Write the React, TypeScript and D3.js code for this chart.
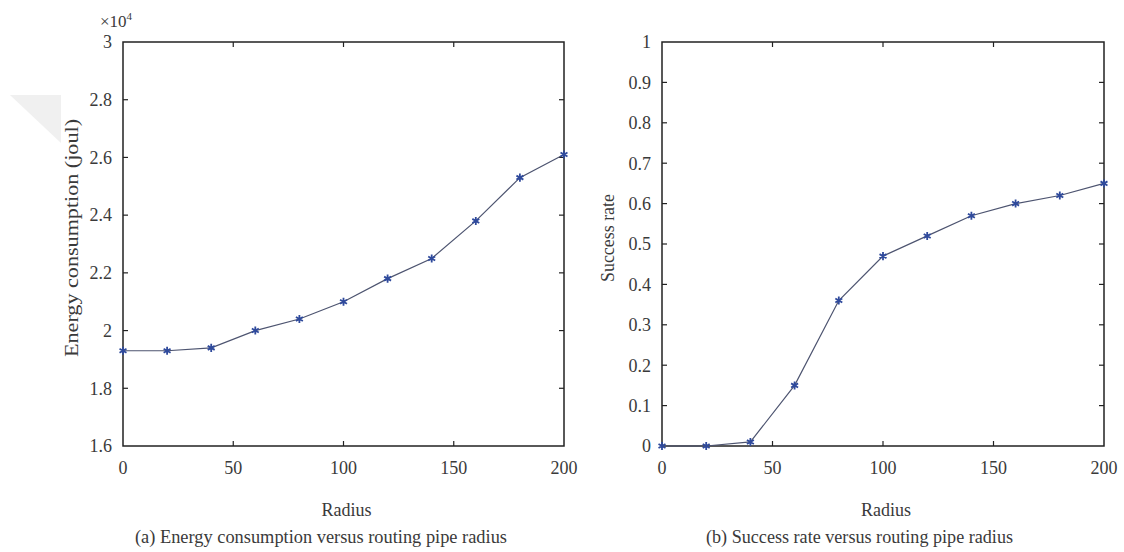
import { useEffect, useRef } from "react"
import * as d3 from "d3"

const radius = [0, 20, 40, 60, 80, 100, 120, 140, 160, 180, 200]
const energy = [1.93, 1.93, 1.94, 2.0, 2.04, 2.1, 2.18, 2.25, 2.38, 2.53, 2.61]
const success = [0, 0, 0.01, 0.15, 0.36, 0.47, 0.52, 0.57, 0.6, 0.62, 0.65]

const xTicks = [0, 50, 100, 150, 200]
const energyTicks = [1.6, 1.8, 2, 2.2, 2.4, 2.6, 2.8, 3]
const successTicks = [0, 0.1, 0.2, 0.3, 0.4, 0.5, 0.6, 0.7, 0.8, 0.9, 1]

const FONT = "Liberation Serif"
const TEXT = "#3a3a3a"

export default function App() {
  const svgRef = useRef<SVGSVGElement>(null)

  useEffect(() => {
    if (!svgRef.current) return
    const svg = d3.select(svgRef.current)
    svg.selectAll("*").remove()

    // faint watermark triangle in the corner
    svg
      .append("polygon")
      .attr("points", "10,95 61,95 61,143")
      .attr("fill", "#f0f0f0")

    const drawPanel = (opts: {
      left: number
      right: number
      values: number[]
      yDomain: [number, number]
      yTicks: number[]
      yLabel: string
      yLabelLen: number
      yLabelX: number
      caption: string
      captionX: number
      captionLen: number
    }) => {
      const top = 42
      const bottom = 446
      const x = d3.scaleLinear().domain([0, 200]).range([opts.left, opts.right])
      const y = d3.scaleLinear().domain(opts.yDomain).range([bottom, top])
      const g = svg.append("g")

      // ticks (inward, mirrored)
      xTicks.forEach((t) => {
        if (t === 0 || t === 200) return
        g.append("line").attr("x1", x(t)).attr("x2", x(t)).attr("y1", bottom).attr("y2", bottom - 5)
          .attr("stroke", "#222").attr("stroke-width", 1.2)
        g.append("line").attr("x1", x(t)).attr("x2", x(t)).attr("y1", top).attr("y2", top + 5)
          .attr("stroke", "#222").attr("stroke-width", 1.2)
      })
      opts.yTicks.forEach((t, i) => {
        if (i === 0 || i === opts.yTicks.length - 1) return
        g.append("line").attr("x1", opts.left).attr("x2", opts.left + 5).attr("y1", y(t)).attr("y2", y(t))
          .attr("stroke", "#222").attr("stroke-width", 1.2)
        g.append("line").attr("x1", opts.right).attr("x2", opts.right - 5).attr("y1", y(t)).attr("y2", y(t))
          .attr("stroke", "#222").attr("stroke-width", 1.2)
      })

      g.append("rect")
        .attr("x", opts.left)
        .attr("y", top)
        .attr("width", opts.right - opts.left)
        .attr("height", bottom - top)
        .attr("fill", "none")
        .attr("stroke", "#222")
        .attr("stroke-width", 1.5)

      g.selectAll(".xt")
        .data(xTicks)
        .enter()
        .append("text")
        .attr("x", (d) => x(d))
        .attr("y", 474)
        .attr("text-anchor", "middle")
        .style("font-family", FONT)
        .attr("font-size", 18)
        .attr("fill", TEXT)
        .text((d) => d)

      g.selectAll(".yt")
        .data(opts.yTicks)
        .enter()
        .append("text")
        .attr("x", opts.left - 11)
        .attr("y", (d) => y(d))
        .attr("dy", "0.35em")
        .attr("text-anchor", "end")
        .style("font-family", FONT)
        .attr("font-size", 18)
        .attr("fill", TEXT)
        .text((d) => d3.format("~g")(d))

      g.append("text")
        .attr("x", (opts.left + opts.right) / 2 + 3)
        .attr("y", 516)
        .attr("text-anchor", "middle")
        .style("font-family", FONT)
        .attr("font-size", 18)
        .attr("fill", TEXT)
        .text("Radius")

      g.append("text")
        .attr("transform", `translate(${opts.yLabelX},${(top + bottom) / 2 - 6}) rotate(-90)`)
        .attr("text-anchor", "middle")
        .style("font-family", FONT)
        .attr("font-size", 18)
        .attr("fill", TEXT)
        .attr("textLength", opts.yLabelLen)
        .attr("lengthAdjust", "spacingAndGlyphs")
        .text(opts.yLabel)

      g.append("text")
        .attr("x", opts.captionX)
        .attr("y", 543)
        .style("font-family", FONT)
        .attr("font-size", 18)
        .attr("fill", TEXT)
        .attr("textLength", opts.captionLen)
        .attr("lengthAdjust", "spacingAndGlyphs")
        .text(opts.caption)

      const pts = radius.map((r, i) => [x(r), y(opts.values[i])] as [number, number])
      g.append("path")
        .attr("d", d3.line()(pts))
        .attr("fill", "none")
        .attr("stroke", "#4d5470")
        .attr("stroke-width", 1.2)

      const sym = d3.symbol().type(d3.symbolAsterisk).size(45)
      g.selectAll(".mk")
        .data(pts)
        .enter()
        .append("path")
        .attr("d", sym())
        .attr("transform", (d) => `translate(${d[0]},${d[1]})`)
        .attr("fill", "none")
        .attr("stroke", "#2f4a9c")
        .attr("stroke-width", 1.8)
    }

    drawPanel({
      left: 123,
      right: 564,
      values: energy,
      yDomain: [1.6, 3],
      yTicks: energyTicks,
      yLabel: "Energy consumption (joul)",
      yLabelLen: 238,
      yLabelX: 78,
      caption: "(a)  Energy consumption versus routing pipe radius",
      captionX: 135,
      captionLen: 372,
    })

    drawPanel({
      left: 662,
      right: 1104,
      values: success,
      yDomain: [0, 1],
      yTicks: successTicks,
      yLabel: "Success rate",
      yLabelLen: 88,
      yLabelX: 614,
      caption: "(b)  Success rate versus routing pipe radius",
      captionX: 706,
      captionLen: 307,
    })

    // exponent label
    const ex = svg
      .append("text")
      .attr("x", 100)
      .attr("y", 27)
      .style("font-family", FONT)
      .attr("font-size", 17)
      .attr("fill", TEXT)
    ex.append("tspan").text("×10")
    ex.append("tspan").attr("font-size", 11).attr("dy", -7).text("4")
  }, [])

  return (
    <svg
      ref={svgRef}
      width={1124}
      height={552}
      style={{ position: "absolute", left: 0, top: 0, background: "#fff" }}
    />
  )
}
